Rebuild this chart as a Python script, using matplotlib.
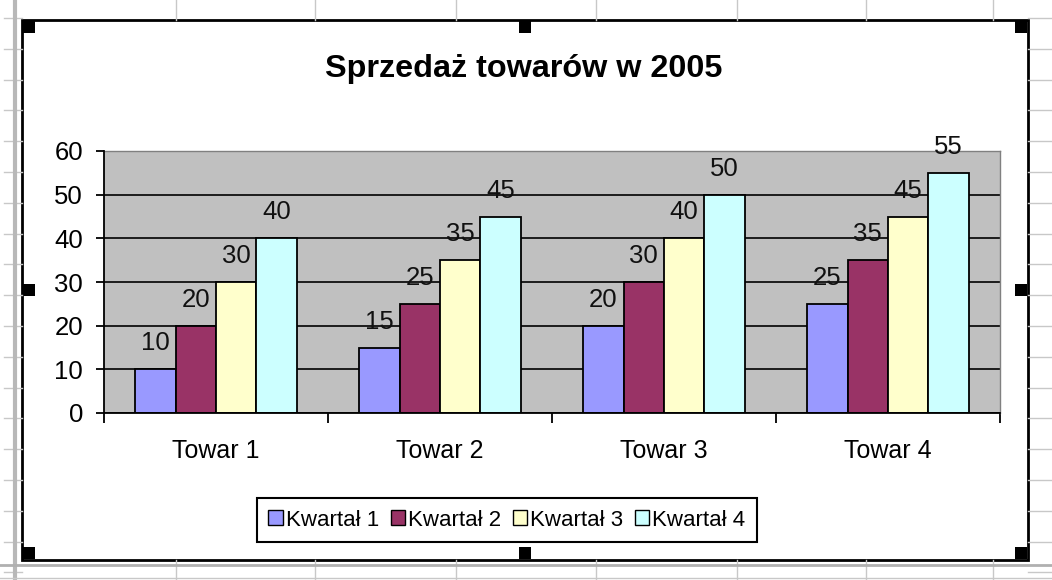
import matplotlib
matplotlib.use("Agg")
import matplotlib.pyplot as plt
from matplotlib.patches import Rectangle, Patch
import numpy as np

plt.rcParams["font.family"] = ["Liberation Sans", "DejaVu Sans"]

# --- data ---
title = "Sprzedaż towarów w 2005"
categories = ["Towar 1", "Towar 2", "Towar 3", "Towar 4"]
series_names = ["Kwartał 1", "Kwartał 2", "Kwartał 3", "Kwartał 4"]
kwartal_1 = [10, 15, 20, 25]
kwartal_2 = [20, 25, 30, 35]
kwartal_3 = [30, 35, 40, 45]
kwartal_4 = [40, 45, 50, 55]
y_ticks = [0, 10, 20, 30, 40, 50, 60]

colors = ["#9999FF", "#993366", "#FFFFCC", "#CCFFFF"]
W, H = 1052, 580

fig = plt.figure(figsize=(W / 100, H / 100), dpi=100)

# spreadsheet background in pixel coords
bg = fig.add_axes([0, 0, 1, 1], zorder=0)
bg.set_xlim(0, W)
bg.set_ylim(H, 0)
bg.axis("off")
grid_c = "#c8c8c8"
for y in np.arange(18, H, 30.8):
    bg.plot([4, 22], [y, y], color=grid_c, lw=1)
    bg.plot([1028, W], [y, y], color=grid_c, lw=1)
bg.plot([15, 15], [0, H], color="#b8b8b8", lw=3)
for x in [176, 315, 456, 596, 737, 866, 993]:
    bg.plot([x, x], [0, 20], color=grid_c, lw=1)
    bg.plot([x, x], [560, H], color=grid_c, lw=1)
bg.plot([0, W], [565, 565], color="#b0b0b0", lw=2)
bg.plot([0, W], [578, 578], color=grid_c, lw=1)

# chart area with selection handles
bg.add_patch(Rectangle((22, 20), 1006, 540, facecolor="white", edgecolor="black", lw=2))
hs = 12
for hx, hy in [(23, 21), (519, 21), (1015, 21), (23, 284), (1015, 284),
               (23, 547), (519, 547), (1015, 547)]:
    bg.add_patch(Rectangle((hx, hy), hs, hs, facecolor="black", edgecolor="none"))

# plot area
ax = fig.add_axes([104 / W, 1 - 413 / H, 896 / W, 262 / H], zorder=2)
ax.set_facecolor("#c0c0c0")

series = [kwartal_1, kwartal_2, kwartal_3, kwartal_4]
x = np.arange(len(categories))
bw = 0.18
for k, vals in enumerate(series):
    bars = ax.bar(x + (k - 1.5) * bw, vals, width=bw, color=colors[k],
                  edgecolor="black", linewidth=1.3, zorder=3)
    ax.bar_label(bars, padding=10, fontsize=18.5, color="#111111")

ax.set_xlim(-0.5, len(categories) - 0.5)
ax.set_ylim(0, 60)
ax.set_yticks(y_ticks)
ax.set_yticklabels([str(v) for v in y_ticks])
ax.tick_params(axis="y", length=6, width=1.3, pad=9, labelsize=18.5, color="black")

ax.set_xticks(np.arange(len(categories) + 1) - 0.5)
ax.set_xticklabels([])
ax.set_xticks(x, minor=True)
ax.set_xticklabels(categories, minor=True)
ax.tick_params(axis="x", which="major", length=7, width=1.3, color="black")
ax.tick_params(axis="x", which="minor", length=0, pad=19, labelsize=18)

ax.yaxis.grid(True, color="black", lw=1.2)
ax.get_ygridlines()[-1].set_visible(False)
ax.set_axisbelow(True)

for side in ["left", "bottom"]:
    ax.spines[side].set_color("black")
    ax.spines[side].set_linewidth(1.3)
ax.spines["left"].set_zorder(4)
ax.spines["bottom"].set_zorder(4)
for side in ["top", "right"]:
    ax.spines[side].set_color("#808080")
    ax.spines[side].set_linewidth(1)

fig.text(524 / W, 1 - 69 / H, title, ha="center", va="center",
         fontsize=23.3, fontweight="bold")

handles = [Patch(facecolor=c, edgecolor="black", linewidth=1) for c in colors]
leg = fig.legend(handles, series_names, loc="center",
                 bbox_to_anchor=(507 / W, 1 - 520 / H), ncol=4, fontsize=16,
                 frameon=True, fancybox=False, edgecolor="black", framealpha=1,
                 handlelength=0.65, handleheight=0.65, handletextpad=0.15,
                 columnspacing=0.5, borderpad=0.5, borderaxespad=0)
leg.get_frame().set_linewidth(1.5)
leg.set_zorder(5)

fig.savefig("out.png", dpi=100)
